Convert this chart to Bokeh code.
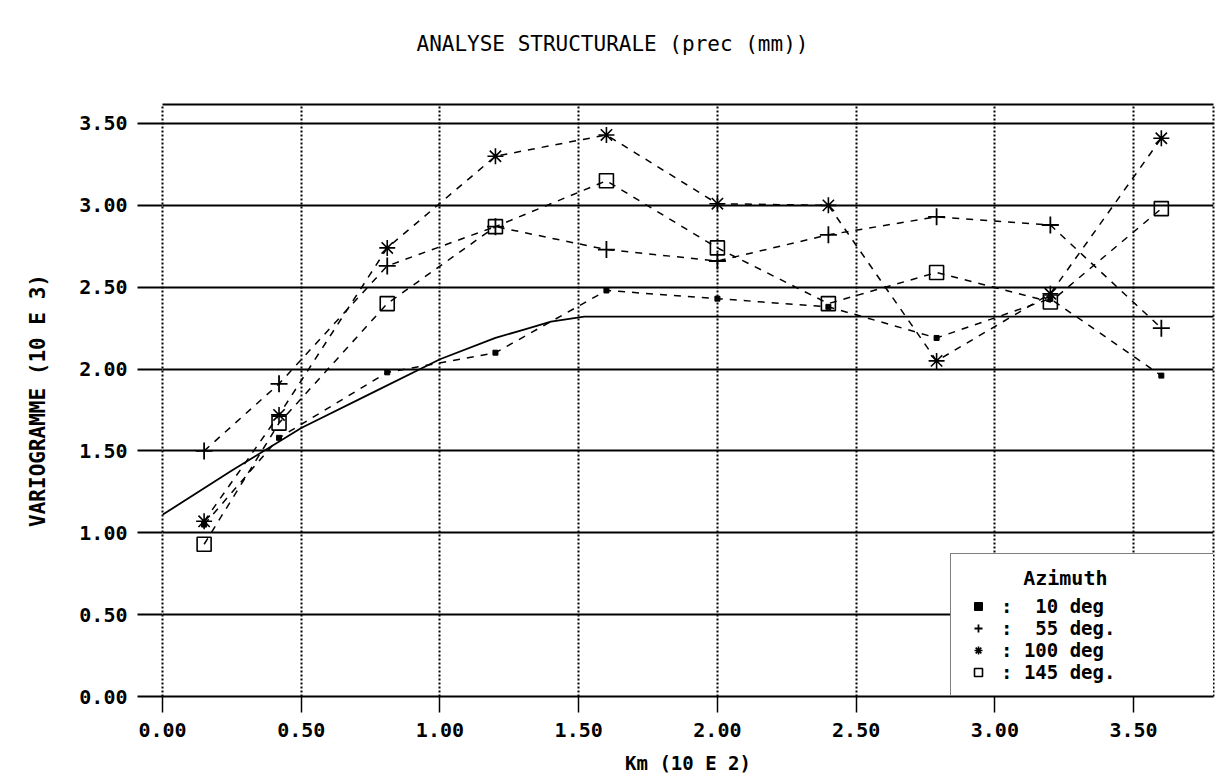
from bokeh.plotting import figure
from bokeh.models import Range1d, LinearAxis, FixedTicker, Legend, LegendItem
from bokeh.embed import file_html
from bokeh.resources import INLINE

# ---- data ----
lags = [0.15, 0.42, 0.81, 1.20, 1.60, 2.00, 2.40, 2.79, 3.20, 3.60]
az10 = [1.05, 1.58, 1.98, 2.10, 2.48, 2.43, 2.38, 2.19, 2.43, 1.96]
az55 = [1.50, 1.91, 2.63, 2.87, 2.73, 2.66, 2.82, 2.93, 2.88, 2.25]
az100 = [1.07, 1.72, 2.74, 3.30, 3.43, 3.01, 3.00, 2.05, 2.46, 3.41]
az145 = [0.93, 1.67, 2.40, 2.87, 3.15, 2.74, 2.40, 2.59, 2.41, 2.98]

model_x = [0.0, 0.25, 0.50, 0.75, 1.00, 1.20, 1.30, 1.40, 1.52, 3.95]
model_y = [1.11, 1.38, 1.64, 1.85, 2.06, 2.19, 2.24, 2.29, 2.32, 2.32]

x_ticks = [0.0, 0.5, 1.0, 1.5, 2.0, 2.5, 3.0, 3.5]
x_tick_labels = ["0.00", "0.50", "1.00", "1.50", "2.00", "2.50", "3.00", "3.50"]
y_ticks = [0.0, 0.5, 1.0, 1.5, 2.0, 2.5, 3.0, 3.5]
y_tick_labels = ["0.00", "0.50", "1.00", "1.50", "2.00", "2.50", "3.00", "3.50"]

legend_labels = [":  10 deg", ":  55 deg.", ": 100 deg", ": 145 deg."]
title_text = "ANALYSE STRUCTURALE (prec (mm))"

FONT = "DejaVu Sans Mono"

p = figure(frame_width=1051, frame_height=592,
           x_range=Range1d(0, 3.788), y_range=Range1d(0, 3.616),
           output_backend="svg", toolbar_location=None,
           min_border_left=162, min_border_right=16,
           min_border_top=104, min_border_bottom=86,
           title=title_text)
p.outline_line_color = None
p.background_fill_color = "white"
p.border_fill_color = "white"

p.title.align = "left"
p.title.offset = 254
p.title.standoff = 0
p.title.text_font = FONT
p.title.text_font_size = "21px"
p.title.text_font_style = "normal"
p.title.text_color = "black"

# axes
p.xaxis.ticker = FixedTicker(ticks=x_ticks)
p.xaxis.major_label_overrides = {t: l for t, l in zip(x_ticks, x_tick_labels)}
p.yaxis.ticker = FixedTicker(ticks=y_ticks)
p.yaxis.major_label_overrides = {t: l for t, l in zip(y_ticks, y_tick_labels)}

for ax in (p.xaxis[0], p.yaxis[0]):
    ax.major_label_text_font = FONT
    ax.major_label_text_font_size = "20px"
    ax.major_label_text_font_style = "bold"
    ax.major_label_text_color = "black"
    ax.axis_label_text_font = FONT
    ax.axis_label_text_font_size = "19px"
    ax.axis_label_text_font_style = "bold"
    ax.axis_label_text_color = "black"
    ax.minor_tick_line_color = None
    ax.major_tick_in = 0
    ax.major_tick_line_color = "black"

p.xaxis.axis_label = "Km (10 E 2)"
p.xaxis.axis_line_width = 2
p.xaxis.axis_line_color = "black"
p.xaxis.major_tick_out = 16
p.xaxis.major_tick_line_width = 1.5
p.xaxis.major_label_standoff = 10
p.xaxis.axis_label_standoff = 12

p.yaxis.axis_label = "VARIOGRAMME (10 E 3)"
p.yaxis.axis_label_text_font_size = "21px"
p.yaxis.axis_line_color = "black"
p.yaxis.axis_line_dash = "2 2"
p.yaxis.axis_line_width = 2
p.yaxis.major_tick_out = 25
p.yaxis.major_tick_line_width = 2
p.yaxis.major_label_standoff = 10
p.yaxis.axis_label_standoff = 26

# top (solid) border; invisible ticks reserve room that lifts the title up
top = LinearAxis(ticker=FixedTicker(ticks=x_ticks), axis_line_width=2, axis_line_color="black",
                 major_label_overrides={t: "" for t in x_ticks},
                 major_label_text_font_size="1px", major_label_standoff=0,
                 major_tick_out=49, major_tick_in=0, major_tick_line_color=None,
                 minor_tick_out=0, minor_tick_line_color=None)
p.add_layout(top, "above")
# right (dotted) border
right = LinearAxis(ticker=FixedTicker(ticks=[]), axis_line_width=2, axis_line_color="black",
                   axis_line_dash="2 2", major_label_standoff=0,
                   major_label_text_font_size="0px", major_tick_out=0, minor_tick_out=0)
p.add_layout(right, "right")

# grids
p.xgrid.ticker = FixedTicker(ticks=x_ticks)
p.xgrid.grid_line_color = "black"
p.xgrid.grid_line_dash = "2 2"
p.xgrid.grid_line_width = 2
p.ygrid.ticker = FixedTicker(ticks=y_ticks)
p.ygrid.grid_line_color = "black"
p.ygrid.grid_line_width = 2

# model curve
p.line(model_x, model_y, line_color="black", line_width=1.8)

dash = "7 7"
series = [
    (az10, dict(marker="square", size=5, fill_color="black", line_color="black", line_width=1)),
    (az55, dict(marker="cross", size=17, line_color="black", line_width=1.8)),
    (az100, dict(marker="asterisk", size=16, line_color="black", line_width=1.6)),
    (az145, dict(marker="square", size=14, fill_color=None, line_color="black", line_width=1.6)),
]
items = []
for (vals, mk), lab in zip(series, legend_labels):
    p.line(lags, vals, line_color="black", line_width=1.5, line_dash=dash)
    r = p.scatter(lags, vals, **mk)
    items.append(LegendItem(label=lab, renderers=[r]))

legend = Legend(items=items, location=(788, 0), title="\u00a0\u00a0\u00a0\u00a0\u00a0Azimuth",
                title_text_font=FONT, title_text_font_size="20px",
                title_text_font_style="bold", title_text_color="black",
                label_text_font=FONT, label_text_font_size="19px",
                label_text_font_style="bold", label_text_color="black",
                label_height=20, glyph_height=20, glyph_width=30,
                label_standoff=8, label_width=203, spacing=0, padding=12,
                margin=0, border_line_color="black", border_line_width=1.5,
                background_fill_color="white", background_fill_alpha=1.0)
p.add_layout(legend)

open("out.html", "w").write(file_html(p, INLINE))
